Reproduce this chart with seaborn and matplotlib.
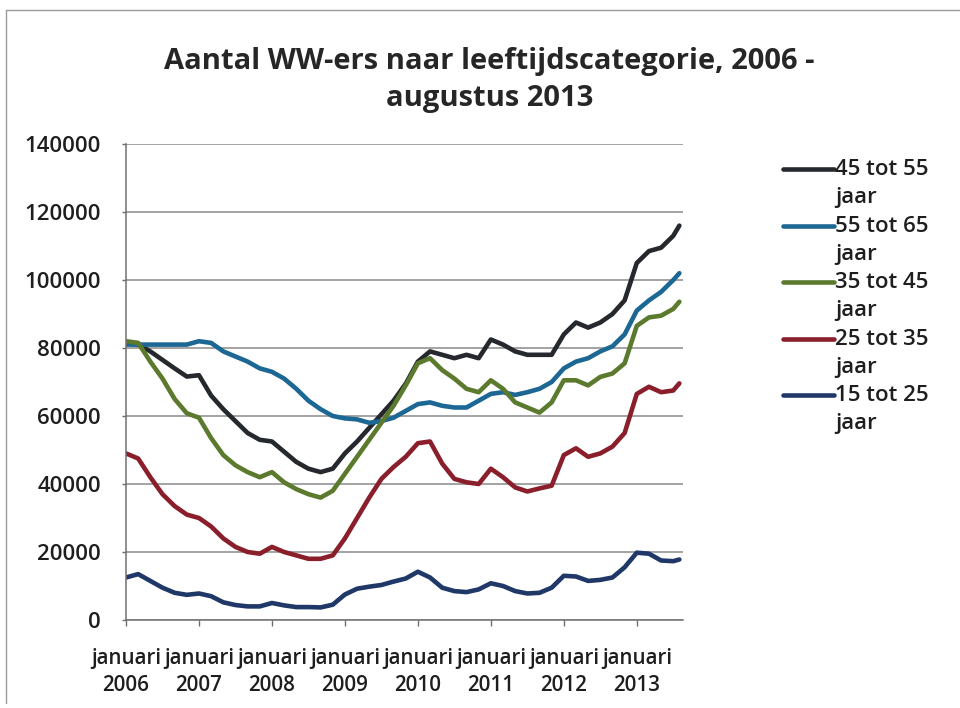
import numpy as np
import pandas as pd
import matplotlib
matplotlib.use('Agg')
import matplotlib.pyplot as plt
from matplotlib.lines import Line2D
from matplotlib.legend_handler import HandlerLine2D
import seaborn as sns

# maandnummer vanaf januari 2006 (0 = jan 2006, 91 = aug 2013)
maanden = list(range(0, 91, 2)) + [91]

groepen = ['45 tot 55 jaar', '55 tot 65 jaar', '35 tot 45 jaar', '25 tot 35 jaar', '15 tot 25 jaar']

ww_45_55 = [81500, 81000, 79000, 76500, 74000, 71600, 72000, 66000, 62000, 58500,
            55000, 53000, 52500, 49500, 46500, 44500, 43500, 44500, 49000, 52500,
            56500, 60500, 64500, 69500, 76000, 79000, 78000, 77000, 78000, 77000,
            82500, 81000, 79000, 78000, 78000, 78000, 84000, 87500, 86000, 87500,
            90000, 94000, 105000, 108500, 109500, 113000, 116000]
ww_55_65 = [81000, 81000, 81000, 81000, 81000, 81000, 82000, 81500, 79000, 77500,
            76000, 74000, 73000, 71000, 68000, 64500, 62000, 60000, 59300, 59000,
            58000, 58500, 59500, 61500, 63500, 64000, 63000, 62500, 62500, 64500,
            66500, 67000, 66200, 67000, 68000, 70000, 74000, 76000, 77000, 79000,
            80500, 84000, 91000, 94000, 96500, 100000, 102000]
ww_35_45 = [82000, 81500, 76000, 71000, 65000, 60800, 59500, 53500, 48500, 45500,
            43500, 42000, 43500, 40500, 38500, 37000, 36000, 38000, 43000, 48000,
            53000, 58000, 63000, 69000, 75500, 77000, 73500, 71000, 68000, 67000,
            70500, 68000, 64000, 62500, 61000, 64000, 70500, 70500, 69000, 71500,
            72500, 75500, 86500, 89000, 89500, 91500, 93600]
ww_25_35 = [49000, 47500, 42000, 37000, 33500, 31000, 30000, 27500, 24000, 21500,
            20000, 19500, 21500, 20000, 19000, 18000, 18000, 19000, 24000, 30000,
            36000, 41500, 45000, 48000, 52000, 52500, 46000, 41500, 40500, 40000,
            44500, 42000, 39000, 37800, 38700, 39500, 48500, 50500, 48000, 49000,
            51000, 55000, 66500, 68600, 67000, 67500, 69600]
ww_15_25 = [12500, 13500, 11500, 9500, 8000, 7400, 7800, 7000, 5200, 4400,
            4000, 4000, 5000, 4300, 3800, 3800, 3700, 4500, 7500, 9200,
            9800, 10300, 11300, 12200, 14200, 12500, 9500, 8500, 8200, 9000,
            10800, 10000, 8500, 7800, 8000, 9500, 13000, 12800, 11500, 11800,
            12500, 15500, 19800, 19500, 17500, 17300, 17800]

jaren = ['2006', '2007', '2008', '2009', '2010', '2011', '2012', '2013']
kleuren = ['#25282d', '#1d6794', '#5b7a2e', '#8a1f2b', '#1f3868']


class BovensteRegel(HandlerLine2D):
    # legendalijn op hoogte van de eerste tekstregel zetten
    def create_artists(self, legend, orig_handle, xdescent, ydescent,
                       width, height, fontsize, trans):
        arts = super().create_artists(legend, orig_handle, xdescent, ydescent,
                                      width, height, fontsize, trans)
        for a in arts:
            a.set_ydata(np.asarray(a.get_ydata()) + 0.66 * fontsize)
        return arts


def main():
    reeksen = [ww_45_55, ww_55_65, ww_35_45, ww_25_35, ww_15_25]
    df = pd.concat([pd.DataFrame({'maand': maanden, 'aantal': w, 'groep': g})
                    for g, w in zip(groepen, reeksen)], ignore_index=True)

    sns.set_theme(style='white')
    plt.rcParams['font.family'] = ['Open Sans', 'DejaVu Sans']
    tekstkleur = '#1e1e1e'
    fs = 16

    fig = plt.figure(figsize=(9.6, 7.08), dpi=100)
    ax = fig.add_axes([126 / 960, 1 - 620 / 708, (683 - 126) / 960, (620 - 144) / 708])

    sns.lineplot(data=df, x='maand', y='aantal', hue='groep', hue_order=groepen,
                 palette=dict(zip(groepen, kleuren)), errorbar=None, legend=False,
                 lw=3.3, solid_capstyle='round', solid_joinstyle='round', ax=ax)

    ax.set_xlim(0, 91.6)
    ax.set_ylim(0, 140000)
    ax.set_yticks(range(0, 140001, 20000))
    ax.set_yticklabels([str(v) for v in range(0, 140001, 20000)], fontweight='semibold')
    ax.set_xticks([12 * i for i in range(len(jaren))])
    ax.set_xticklabels(['januari\n' + j for j in jaren], linespacing=1.4,
                       fontweight='semibold')
    ax.set_xlabel('')
    ax.set_ylabel('')

    ax.yaxis.grid(True, color='#8a8a8a', lw=1.1)
    ax.xaxis.grid(False)
    ax.set_axisbelow(True)
    for s in ['top', 'right']:
        ax.spines[s].set_visible(False)
    for s in ['left', 'bottom']:
        ax.spines[s].set_color('#707070')
        ax.spines[s].set_linewidth(1.1)
    ax.tick_params(axis='x', direction='out', length=4, width=1, color='#707070',
                   labelsize=14.8, labelcolor=tekstkleur, pad=16, bottom=True)
    ax.tick_params(axis='y', direction='out', length=3, width=1, color='#707070',
                   labelsize=fs, labelcolor=tekstkleur, pad=15, left=True)

    labels = [g.replace(' jaar', '\njaar') for g in groepen]
    leg = ax.legend(ax.get_lines()[:5], labels, handler_map={Line2D: BovensteRegel()},
                    loc='upper left', bbox_to_anchor=(783 / 960, 1 - 159 / 708),
                    bbox_transform=fig.transFigure, frameon=False,
                    prop={'size': fs, 'weight': 'semibold'},
                    handlelength=2.3, handletextpad=0.05, labelspacing=0.33,
                    borderpad=0, borderaxespad=0)
    for t in leg.get_texts():
        t.set_color(tekstkleur)
        t.set_linespacing(1.45)

    fig.text(0.51, 1 - 80 / 708, 'Aantal WW-ers naar leeftijdscategorie, 2006 -\naugustus 2013',
             ha='center', va='center', fontsize=21, fontweight='bold', color='#262626',
             linespacing=1.32)

    # rand van het grafiekvak
    fig.add_artist(Line2D([6 / 960, 6 / 960], [1 - 10 / 708, 1 - 703 / 708],
                          transform=fig.transFigure, color='#9a9a9a', lw=1))
    fig.add_artist(Line2D([6 / 960, 1], [1 - 10 / 708, 1 - 10 / 708],
                          transform=fig.transFigure, color='#9a9a9a', lw=1))

    fig.savefig('out.png', dpi=100, facecolor='white')


if __name__ == "__main__":
    main()
